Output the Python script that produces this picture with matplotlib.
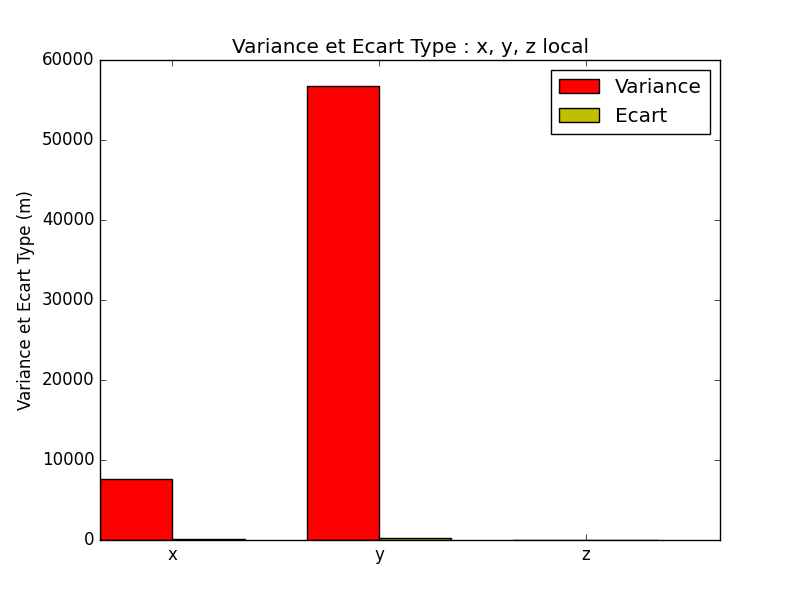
import matplotlib
matplotlib.use("Agg")
import matplotlib.pyplot as plt
import numpy as np

plt.style.use('classic')

categories = ['x', 'y', 'z']
variance = [7600, 56700, 4.0]
ecart = [87.2, 238.1, 2.0]

ind = np.arange(len(categories))
width = 0.35

fig, ax = plt.subplots(figsize=(8, 6), dpi=100)
r1 = ax.bar(ind, variance, width, color='r', label='Variance', align='edge')
r2 = ax.bar(ind + width, ecart, width, color='y', label='Ecart', align='edge')
ax.set_xlim(0, 3)
ax.set_ylim(0, 60000)
ax.set_ylabel('Variance et Ecart Type (m)')
ax.set_title('Variance et Ecart Type : x, y, z local')
ax.set_xticks(ind + width)
ax.set_xticklabels(categories)
ax.legend()
fig.savefig('out.png', dpi=100)
